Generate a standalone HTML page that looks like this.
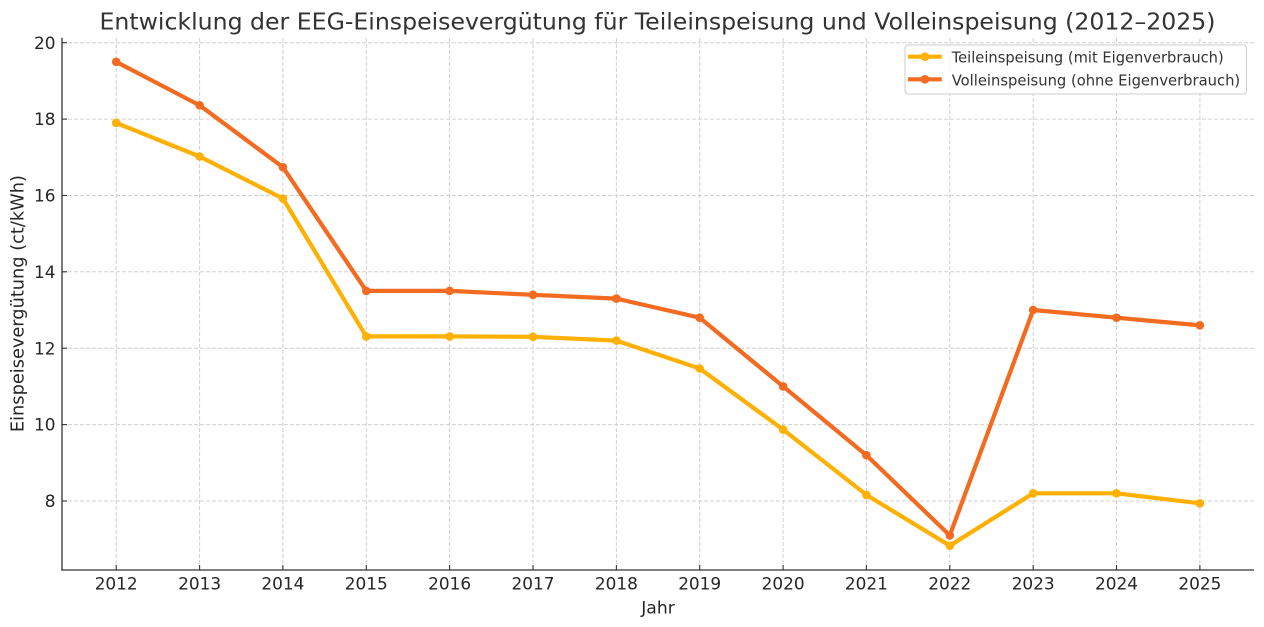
<!DOCTYPE html>
<html>
<head>
<meta charset="utf-8">
<style>
  html, body { margin: 0; padding: 0; background: #ffffff; }
  svg { display: block; }
  text { font-family: "DejaVu Sans", "Liberation Sans", sans-serif; }
</style>
</head>
<body>
<svg width="1264" height="627" viewBox="0 0 1264 627" xmlns="http://www.w3.org/2000/svg">
  <rect x="0" y="0" width="1264" height="627" fill="#ffffff"/>

  <!-- Title -->
  <text x="657.5" y="29.3" font-size="23" fill="#333333" text-anchor="middle" textLength="1116" lengthAdjust="spacingAndGlyphs">Entwicklung der EEG-Einspeisevergütung für Teileinspeisung und Volleinspeisung (2012–2025)</text>

  <!-- Grid lines -->
  <g stroke="#d0d0d0" stroke-width="1" stroke-dasharray="4,2" fill="none">
    <line x1="62" y1="42.7" x2="1254" y2="42.7"/>
    <line x1="62" y1="119.1" x2="1254" y2="119.1"/>
    <line x1="62" y1="195.5" x2="1254" y2="195.5"/>
    <line x1="62" y1="271.8" x2="1254" y2="271.8"/>
    <line x1="62" y1="348.2" x2="1254" y2="348.2"/>
    <line x1="62" y1="424.6" x2="1254" y2="424.6"/>
    <line x1="62" y1="501.0" x2="1254" y2="501.0"/>

    <line x1="116.2" y1="38" x2="116.2" y2="570"/>
    <line x1="199.6" y1="38" x2="199.6" y2="570"/>
    <line x1="282.9" y1="38" x2="282.9" y2="570"/>
    <line x1="366.3" y1="38" x2="366.3" y2="570"/>
    <line x1="449.6" y1="38" x2="449.6" y2="570"/>
    <line x1="533.0" y1="38" x2="533.0" y2="570"/>
    <line x1="616.4" y1="38" x2="616.4" y2="570"/>
    <line x1="699.7" y1="38" x2="699.7" y2="570"/>
    <line x1="783.1" y1="38" x2="783.1" y2="570"/>
    <line x1="866.4" y1="38" x2="866.4" y2="570"/>
    <line x1="949.8" y1="38" x2="949.8" y2="570"/>
    <line x1="1033.2" y1="38" x2="1033.2" y2="570"/>
    <line x1="1116.5" y1="38" x2="1116.5" y2="570"/>
    <line x1="1199.9" y1="38" x2="1199.9" y2="570"/>
  </g>

  <!-- Teileinspeisung series -->
  <polyline fill="none" stroke="#FFB000" stroke-width="4.2" stroke-linejoin="round" stroke-linecap="square"
    points="116.2,122.9 199.6,156.5 282.9,198.5 366.3,336.4 449.6,336.4 533.0,336.8 616.4,340.6 699.7,368.5 783.1,429.6 866.4,494.9 949.8,545.7 1033.2,493.3 1116.5,493.3 1199.9,503.3"/>
  <g fill="#FFB000">
    <circle cx="116.2" cy="122.9" r="4.3"/>
    <circle cx="199.6" cy="156.5" r="4.3"/>
    <circle cx="282.9" cy="198.5" r="4.3"/>
    <circle cx="366.3" cy="336.4" r="4.3"/>
    <circle cx="449.6" cy="336.4" r="4.3"/>
    <circle cx="533.0" cy="336.8" r="4.3"/>
    <circle cx="616.4" cy="340.6" r="4.3"/>
    <circle cx="699.7" cy="368.5" r="4.3"/>
    <circle cx="783.1" cy="429.6" r="4.3"/>
    <circle cx="866.4" cy="494.9" r="4.3"/>
    <circle cx="949.8" cy="545.7" r="4.3"/>
    <circle cx="1033.2" cy="493.3" r="4.3"/>
    <circle cx="1116.5" cy="493.3" r="4.3"/>
    <circle cx="1199.9" cy="503.3" r="4.3"/>
  </g>

  <!-- Volleinspeisung series -->
  <polyline fill="none" stroke="#F26B21" stroke-width="4.2" stroke-linejoin="round" stroke-linecap="square"
    points="116.2,61.8 199.6,105.3 282.9,167.2 366.3,290.9 449.6,290.9 533.0,294.8 616.4,298.6 699.7,317.7 783.1,386.4 866.4,455.2 949.8,535.4 1033.2,310.0 1116.5,317.7 1199.9,325.3"/>
  <g fill="#F26B21">
    <circle cx="116.2" cy="61.8" r="4.3"/>
    <circle cx="199.6" cy="105.3" r="4.3"/>
    <circle cx="282.9" cy="167.2" r="4.3"/>
    <circle cx="366.3" cy="290.9" r="4.3"/>
    <circle cx="449.6" cy="290.9" r="4.3"/>
    <circle cx="533.0" cy="294.8" r="4.3"/>
    <circle cx="616.4" cy="298.6" r="4.3"/>
    <circle cx="699.7" cy="317.7" r="4.3"/>
    <circle cx="783.1" cy="386.4" r="4.3"/>
    <circle cx="866.4" cy="455.2" r="4.3"/>
    <circle cx="949.8" cy="535.4" r="4.3"/>
    <circle cx="1033.2" cy="310.0" r="4.3"/>
    <circle cx="1116.5" cy="317.7" r="4.3"/>
    <circle cx="1199.9" cy="325.3" r="4.3"/>
  </g>

  <!-- Spines -->
  <g stroke="#333333" stroke-width="1.3" fill="none">
    <line x1="62" y1="37.7" x2="62" y2="570.6"/>
    <line x1="61.4" y1="570" x2="1254" y2="570"/>
  </g>

  <!-- Ticks (inward) -->
  <g stroke="#333333" stroke-width="1.1">
    <line x1="62" y1="42.7" x2="67" y2="42.7"/>
    <line x1="62" y1="119.1" x2="67" y2="119.1"/>
    <line x1="62" y1="195.5" x2="67" y2="195.5"/>
    <line x1="62" y1="271.8" x2="67" y2="271.8"/>
    <line x1="62" y1="348.2" x2="67" y2="348.2"/>
    <line x1="62" y1="424.6" x2="67" y2="424.6"/>
    <line x1="62" y1="501.0" x2="67" y2="501.0"/>

    <line x1="116.2" y1="570" x2="116.2" y2="565"/>
    <line x1="199.6" y1="570" x2="199.6" y2="565"/>
    <line x1="282.9" y1="570" x2="282.9" y2="565"/>
    <line x1="366.3" y1="570" x2="366.3" y2="565"/>
    <line x1="449.6" y1="570" x2="449.6" y2="565"/>
    <line x1="533.0" y1="570" x2="533.0" y2="565"/>
    <line x1="616.4" y1="570" x2="616.4" y2="565"/>
    <line x1="699.7" y1="570" x2="699.7" y2="565"/>
    <line x1="783.1" y1="570" x2="783.1" y2="565"/>
    <line x1="866.4" y1="570" x2="866.4" y2="565"/>
    <line x1="949.8" y1="570" x2="949.8" y2="565"/>
    <line x1="1033.2" y1="570" x2="1033.2" y2="565"/>
    <line x1="1116.5" y1="570" x2="1116.5" y2="565"/>
    <line x1="1199.9" y1="570" x2="1199.9" y2="565"/>
  </g>

  <!-- Y tick labels -->
  <g font-size="16.9" fill="#262626" text-anchor="end">
    <text x="55.5" y="48.8">20</text>
    <text x="55.5" y="125.2">18</text>
    <text x="55.5" y="201.6">16</text>
    <text x="55.5" y="277.9">14</text>
    <text x="55.5" y="354.3">12</text>
    <text x="55.5" y="430.7">10</text>
    <text x="55.5" y="507.1">8</text>
  </g>

  <!-- X tick labels -->
  <g font-size="16.9" fill="#262626" text-anchor="middle">
    <text x="116.2" y="589.3">2012</text>
    <text x="199.6" y="589.3">2013</text>
    <text x="282.9" y="589.3">2014</text>
    <text x="366.3" y="589.3">2015</text>
    <text x="449.6" y="589.3">2016</text>
    <text x="533.0" y="589.3">2017</text>
    <text x="616.4" y="589.3">2018</text>
    <text x="699.7" y="589.3">2019</text>
    <text x="783.1" y="589.3">2020</text>
    <text x="866.4" y="589.3">2021</text>
    <text x="949.8" y="589.3">2022</text>
    <text x="1033.2" y="589.3">2023</text>
    <text x="1116.5" y="589.3">2024</text>
    <text x="1199.9" y="589.3">2025</text>
  </g>

  <!-- Axis labels -->
  <text x="658" y="613.3" font-size="17.2" fill="#262626" text-anchor="middle">Jahr</text>
  <text x="0" y="0" font-size="17.6" fill="#262626" text-anchor="middle" textLength="257" lengthAdjust="spacingAndGlyphs" transform="translate(23.5,303.6) rotate(-90)">Einspeisevergütung (ct/kWh)</text>

  <!-- Legend -->
  <rect x="905" y="45" width="341.5" height="49" rx="3" ry="3" fill="#ffffff" fill-opacity="0.85" stroke="#cccccc" stroke-width="1"/>
  <line x1="910" y1="56.7" x2="939.7" y2="56.7" stroke="#FFB000" stroke-width="4.2" stroke-linecap="square"/>
  <circle cx="924.9" cy="56.7" r="4.3" fill="#FFB000"/>
  <line x1="910" y1="79.3" x2="939.7" y2="79.3" stroke="#F26B21" stroke-width="4.2" stroke-linecap="square"/>
  <circle cx="924.9" cy="79.3" r="4.3" fill="#F26B21"/>
  <text x="951.7" y="62.6" font-size="14.8" fill="#333333" textLength="272" lengthAdjust="spacingAndGlyphs">Teileinspeisung (mit Eigenverbrauch)</text>
  <text x="951.7" y="85.3" font-size="14.8" fill="#333333" textLength="288.5" lengthAdjust="spacingAndGlyphs">Volleinspeisung (ohne Eigenverbrauch)</text>
</svg>
</body>
</html>
